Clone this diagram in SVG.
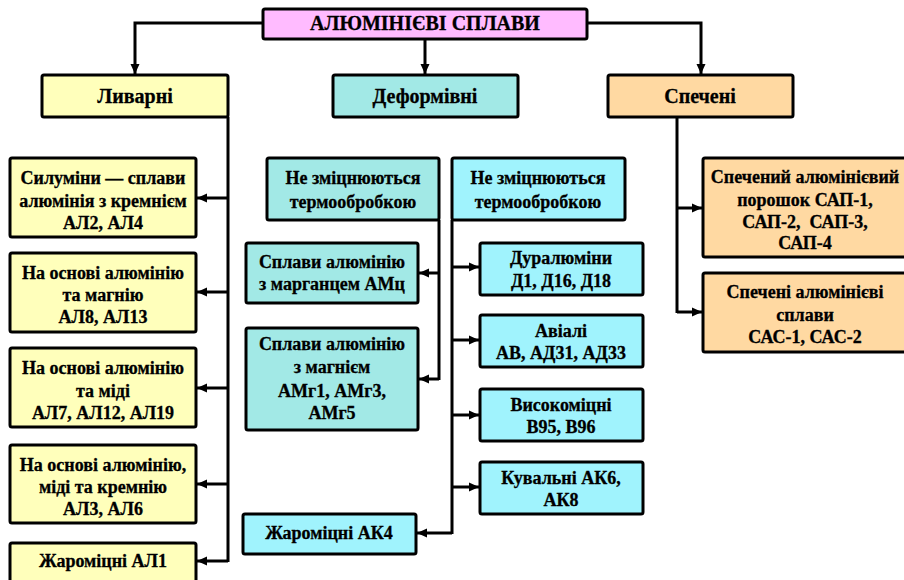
<svg xmlns="http://www.w3.org/2000/svg" width="904" height="580" viewBox="0 0 904 580">
<defs>
<marker id="ah" markerUnits="userSpaceOnUse" markerWidth="12" markerHeight="12" refX="10" refY="5" orient="auto">
<path d="M0,0.5 L10,5 L0,9.5 Z" fill="#000"/>
</marker>
<style>
rect{stroke:#000;stroke-width:3}
.pk{fill:#FFBBFF}.yl{fill:#FFFFBB}.tl{fill:#A2E9E6}.cy{fill:#A0F3FD}.or{fill:#FFD9A2}
text{font-family:"Liberation Serif","Times New Roman",serif;font-weight:bold;font-size:18px;text-anchor:middle;fill:#000;stroke:#000;stroke-width:0.3}
.big{font-size:20px}
#connectors path{fill:none;stroke:#000;stroke-width:3}
.a{marker-end:url(#ah)}
</style>
</defs>
<g id="connectors">
<path class="a" d="M263,23 H135 V74"/>
<path class="a" d="M425,39 V74"/>
<path class="a" d="M587,23 H701 V74"/>
<path d="M228,117 V562"/>
<path class="a" d="M228,198 H197"/>
<path class="a" d="M228,292 H197"/>
<path class="a" d="M228,388 H197"/>
<path class="a" d="M228,484 H197"/>
<path class="a" d="M228,561 H197"/>
<path d="M439,220 V380"/>
<path class="a" d="M439,273 H419"/>
<path class="a" d="M439,379 H419"/>
<path d="M452,220 V534"/>
<path class="a" d="M452,267 H479"/>
<path class="a" d="M452,340 H479"/>
<path class="a" d="M452,415 H479"/>
<path class="a" d="M452,487 H479"/>
<path class="a" d="M452,533 H417"/>
<path d="M677,117 V313"/>
<path class="a" d="M677,208 H702"/>
<path class="a" d="M677,312 H702"/>
</g>
<g id="n-root"><rect class="pk" x="263" y="9" width="324" height="30" rx="2"/><text class="big" x="425" y="30">АЛЮМІНІЄВІ СПЛАВИ</text></g>
<g id="n-lyvarni"><rect class="yl" x="42" y="75" width="186" height="42" rx="2"/><text class="big" x="135" y="103">Ливарні</text></g>
<g id="n-deform"><rect class="tl" x="333" y="75" width="185" height="42" rx="2"/><text class="big" x="425" y="103">Деформівні</text></g>
<g id="n-spech"><rect class="or" x="608" y="75" width="185" height="42" rx="2"/><text class="big" x="700" y="103">Спечені</text></g>
<g id="n-sylumin"><rect class="yl" x="10" y="158" width="186" height="79" rx="2"/><text x="103" y="184">Силуміни — сплави</text><text x="103" y="207">алюмінія з кремнієм</text><text x="103" y="229">АЛ2, АЛ4</text></g>
<g id="n-mg"><rect class="yl" x="10" y="253" width="186" height="79" rx="2"/><text x="103" y="279">На основі алюмінію</text><text x="103" y="301">та магнію</text><text x="103" y="323">АЛ8, АЛ13</text></g>
<g id="n-cu"><rect class="yl" x="10" y="348" width="186" height="79" rx="2"/><text x="103" y="374">На основі алюмінію</text><text x="103" y="397">та міді</text><text x="103" y="419">АЛ7, АЛ12, АЛ19</text></g>
<g id="n-cusi"><rect class="yl" x="10" y="445" width="186" height="78" rx="2"/><text x="103" y="471">На основі алюмінію,</text><text x="103" y="493">міді та кремнію</text><text x="103" y="515">АЛ3, АЛ6</text></g>
<g id="n-al1"><rect class="yl" x="10" y="543" width="186" height="40" rx="2"/><text x="103" y="567">Жароміцні АЛ1</text></g>
<g id="n-hdr1"><rect class="tl" x="267" y="158" width="172" height="62" rx="2"/><text x="353" y="184">Не зміцнюються</text><text x="353" y="208">термообробкою</text></g>
<g id="n-hdr2"><rect class="cy" x="452" y="158" width="173" height="62" rx="2"/><text x="538" y="184">Не зміцнюються</text><text x="538" y="208">термообробкою</text></g>
<g id="n-amc"><rect class="tl" x="246" y="243" width="172" height="60" rx="2"/><text x="332" y="268">Сплави алюмінію</text><text x="332" y="290">з марганцем АМц</text></g>
<g id="n-amg"><rect class="tl" x="246" y="328" width="172" height="102" rx="2"/><text x="332" y="350">Сплави алюмінію</text><text x="332" y="373">з магнієм</text><text x="332" y="397">АМг1, АМг3,</text><text x="332" y="419">АМг5</text></g>
<g id="n-dural"><rect class="cy" x="480" y="243" width="163" height="52" rx="2"/><text x="561" y="264">Дуралюміни</text><text x="561" y="287">Д1, Д16, Д18</text></g>
<g id="n-avial"><rect class="cy" x="480" y="315" width="163" height="52" rx="2"/><text x="561" y="337">Авіалі</text><text x="561" y="359">АВ, АД31, АД33</text></g>
<g id="n-vysok"><rect class="cy" x="480" y="389" width="163" height="52" rx="2"/><text x="561" y="411">Високоміцні</text><text x="561" y="433">В95, В96</text></g>
<g id="n-kuv"><rect class="cy" x="480" y="462" width="163" height="52" rx="2"/><text x="561" y="484">Кувальні АК6,</text><text x="561" y="506">АК8</text></g>
<g id="n-ak4"><rect class="cy" x="243" y="514" width="173" height="40" rx="2"/><text x="329" y="539">Жароміцні АК4</text></g>
<g id="n-sap"><rect class="or" x="703" y="158" width="205" height="99" rx="2"/><text x="805" y="183">Спечений алюмінієвий</text><text x="805" y="206">порошок САП-1,</text><text x="805" y="228">САП-2,&#160; САП-3,</text><text x="805" y="249">САП-4</text></g>
<g id="n-sas"><rect class="or" x="703" y="273" width="205" height="79" rx="2"/><text x="805" y="298">Спечені алюмінієві</text><text x="805" y="321">сплави</text><text x="805" y="343">САС-1, САС-2</text></g>
</svg>
